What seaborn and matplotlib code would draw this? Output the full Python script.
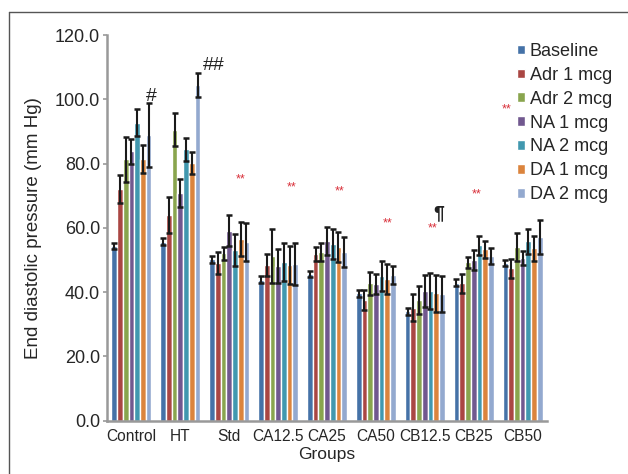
import numpy as np
import pandas as pd
import matplotlib
matplotlib.use('Agg')
import matplotlib.pyplot as plt
import seaborn as sns
from matplotlib.lines import Line2D

groups = ["Control", "HT", "Std", "CA12.5", "CA25", "CA50", "CB12.5", "CB25", "CB50"]
treatments = ["Baseline", "Adr 1 mcg", "Adr 2 mcg", "NA 1 mcg", "NA 2 mcg", "DA 1 mcg", "DA 2 mcg"]

# mean end diastolic pressure (mm Hg) per group
baseline = [54.4, 55.7, 50.2, 43.8, 45.6, 39.6, 34.0, 43.0, 49.0]
adr1 = [72.1, 64.1, 49.2, 48.4, 51.9, 37.5, 35.2, 42.7, 47.4]
adr2 = [81.3, 90.6, 52.1, 51.3, 52.5, 42.7, 37.5, 49.3, 54.0]
na1 = [83.8, 70.8, 59.1, 48.1, 55.9, 42.5, 40.3, 50.0, 50.7]
na2 = [92.7, 84.4, 53.1, 49.4, 55.0, 45.0, 40.3, 54.6, 55.9]
da1 = [81.5, 80.2, 56.6, 48.4, 54.1, 44.1, 39.6, 53.3, 53.6]
da2 = [88.8, 104.4, 55.6, 48.8, 52.5, 45.3, 39.4, 51.3, 57.1]

# error (SEM)
baseline_err = [1.0, 1.0, 1.0, 1.1, 0.9, 1.0, 1.0, 1.0, 1.0]
adr1_err = [4.5, 5.6, 3.4, 3.5, 2.3, 3.1, 4.2, 3.0, 2.9]
adr2_err = [7.0, 5.0, 2.0, 8.4, 2.8, 3.6, 4.3, 1.7, 4.3]
na1_err = [3.9, 4.3, 4.8, 5.3, 4.3, 3.1, 5.0, 3.2, 2.2]
na2_err = [4.2, 3.5, 5.0, 6.0, 4.7, 4.7, 5.6, 3.0, 3.9]
da1_err = [4.3, 3.5, 5.3, 6.0, 4.7, 4.7, 5.7, 2.7, 3.9]
da2_err = [10.0, 3.8, 6.0, 6.5, 4.7, 2.7, 5.6, 2.5, 5.2]

colors = ["#4572A7", "#AA4643", "#89A54E", "#71588F", "#4198AF", "#DB843D", "#93A9CF"]

means = [baseline, adr1, adr2, na1, na2, da1, da2]
errs = [baseline_err, adr1_err, adr2_err, na1_err, na2_err, da1_err, da2_err]

rows = []
for t, vals, ee in zip(treatments, means, errs):
    for g, v, e in zip(groups, vals, ee):
        rows.append({"Group": g, "Treatment": t, "Value": v, "Err": e})
df = pd.DataFrame(rows)

sns.set_style("white")
plt.rcParams['font.family'] = ['Liberation Sans', 'DejaVu Sans']

fig = plt.figure(figsize=(6.28, 4.74), dpi=100)
ax = fig.add_axes([0.1704, 0.1124, 0.7006, 0.8137])

sns.barplot(data=df, x="Group", y="Value", hue="Treatment", order=groups,
            hue_order=treatments, palette=colors, saturation=1, width=0.82,
            gap=0, errorbar=None, ax=ax)

# error bars on top of each bar
for cont, ee in zip(ax.containers, errs):
    xs = [p.get_x() + p.get_width() / 2 for p in cont.patches]
    hs = [p.get_height() for p in cont.patches]
    ax.errorbar(xs, hs, yerr=ee, fmt='none', ecolor='#1a1a1a',
                elinewidth=1.5, capsize=2.3, capthick=1.8, zorder=5)

ax.set_xlim(-0.5, 8.5)
ax.set_ylim(0, 120)
ax.set_yticks(np.arange(0, 121, 20))
ax.set_yticklabels([f"{v:.1f}" for v in np.arange(0, 121, 20)], fontsize=13)
ax.set_xticks(range(len(groups)))
ax.set_xticklabels(groups, fontsize=11.2)
ax.tick_params(axis='y', length=3, width=1.2, color='#999999', pad=2, direction='out', left=True)
ax.tick_params(axis='x', length=0, pad=6)
ax.set_xlabel("Groups", fontsize=12.5, labelpad=2)
ax.set_ylabel("End diastolic pressure (mm Hg)", fontsize=13.5, labelpad=9)

for side in ['top', 'right']:
    ax.spines[side].set_visible(False)
for side in ['left', 'bottom']:
    ax.spines[side].set_color('#999999')
    ax.spines[side].set_linewidth(1.8)

# significance marks
red_marks = [(2.23, 75.0), (3.27, 72.7), (4.26, 71.2), (5.24, 61.5),
             (6.16, 59.9), (7.06, 70.3), (7.67, 96.9)]
for x, y in red_marks:
    ax.text(x, y, "**", color="#D9303A", fontsize=9, ha='center', va='center')
ax.text(0.41, 100.8, "#", fontsize=14, ha='center', va='center', color='#222222')
ax.text(1.69, 110.4, "##", fontsize=14, ha='center', va='center', color='#222222')
ax.text(6.28, 64.3, "¶", fontsize=14, fontweight='bold', ha='center', va='center', color='#222222')

leg = ax.legend(loc='upper left', bbox_to_anchor=(517 / 628, 1 - 43 / 474),
                bbox_transform=fig.transFigure, frameon=False, fontsize=13,
                handlelength=0.45, handleheight=0.45, handletextpad=0.25,
                labelspacing=0.38, borderpad=0, borderaxespad=0)

# outer frame of the figure panel
fig.add_artist(Line2D([9 / 628, 9 / 628], [0, 1 - 12 / 474], transform=fig.transFigure,
                      color='#555555', lw=1))
fig.add_artist(Line2D([9 / 628, 1], [1 - 12 / 474, 1 - 12 / 474], transform=fig.transFigure,
                      color='#555555', lw=1))

fig.savefig("out.png", dpi=100)
